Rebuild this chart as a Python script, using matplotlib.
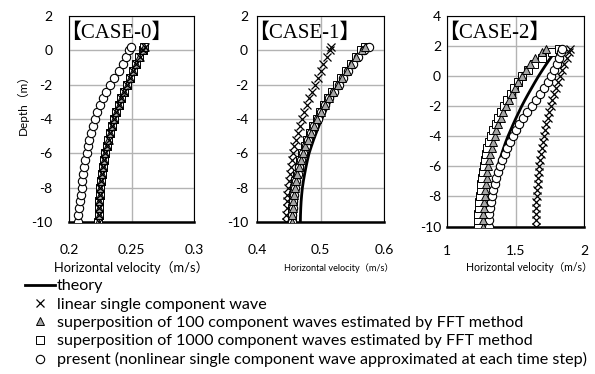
import matplotlib
matplotlib.use("Agg")
import matplotlib.pyplot as plt

# ---------------- data ----------------
depth_01 = [-10.0, -9.6, -9.2, -8.8, -8.4, -8.0, -7.6, -7.2, -6.8, -6.4, -6.0,
            -5.6, -5.2, -4.8, -4.4, -4.0, -3.6, -3.2, -2.8, -2.4, -2.0,
            -1.6, -1.2, -0.8, -0.4, 0.0, 0.2]
depth_2 = [-10.0, -9.6, -9.2, -8.8, -8.4, -8.0, -7.6, -7.2, -6.8, -6.4, -6.0,
           -5.6, -5.2, -4.8, -4.4, -4.0, -3.6, -3.2, -2.8, -2.4, -2.0,
           -1.6, -1.2, -0.8, -0.4, 0.0, 0.4, 0.8, 1.2, 1.6, 1.8]

# CASE-0
c0_theory = [0.2235, 0.2236, 0.2238, 0.2241, 0.2245, 0.2250, 0.2256, 0.2263, 0.2271, 0.2280, 0.2290,
             0.2302, 0.2315, 0.2329, 0.2344, 0.2360, 0.2378, 0.2397, 0.2418, 0.2441, 0.2465,
             0.2488, 0.2512, 0.2537, 0.2563, 0.2590, 0.2603]
c0_linear = [0.2236, 0.2237, 0.2239, 0.2242, 0.2246, 0.2251, 0.2257, 0.2264, 0.2272, 0.2281, 0.2291,
             0.2303, 0.2316, 0.2330, 0.2345, 0.2361, 0.2379, 0.2398, 0.2419, 0.2442, 0.2466,
             0.2489, 0.2513, 0.2539, 0.2565, 0.2592, 0.2606]
c0_fft100 = [0.2235, 0.2236, 0.2238, 0.2241, 0.2245, 0.2250, 0.2256, 0.2263, 0.2271, 0.2280, 0.2290,
             0.2302, 0.2315, 0.2329, 0.2344, 0.2360, 0.2378, 0.2397, 0.2418, 0.2441, 0.2465,
             0.2488, 0.2512, 0.2537, 0.2563, 0.2590, 0.2603]
c0_fft1000 = [0.2235, 0.2236, 0.2238, 0.2241, 0.2245, 0.2250, 0.2256, 0.2263, 0.2271, 0.2280, 0.2290,
              0.2302, 0.2315, 0.2329, 0.2344, 0.2360, 0.2378, 0.2397, 0.2418, 0.2441, 0.2465,
              0.2488, 0.2512, 0.2537, 0.2563, 0.2590, 0.2603]
c0_present = [0.2068, 0.2073, 0.2079, 0.2085, 0.2092, 0.2100, 0.2107, 0.2115, 0.2122, 0.2131, 0.2140,
              0.2151, 0.2163, 0.2176, 0.2190, 0.2205, 0.2225, 0.2247, 0.2271, 0.2299, 0.2330,
              0.2363, 0.2396, 0.2429, 0.2457, 0.2478, 0.2497]

# CASE-1
c1_theory = [0.4683, 0.4685, 0.4689, 0.4695, 0.4704, 0.4715, 0.4731, 0.4750, 0.4771, 0.4794, 0.4820,
             0.4855, 0.4892, 0.4933, 0.4975, 0.5020, 0.5070, 0.5122, 0.5177, 0.5236, 0.5300,
             0.5366, 0.5435, 0.5510, 0.5588, 0.5670, 0.5730]
c1_linear = [0.4463, 0.4464, 0.4467, 0.4472, 0.4479, 0.4488, 0.4500, 0.4514, 0.4530, 0.4548, 0.4567,
             0.4590, 0.4615, 0.4643, 0.4675, 0.4710, 0.4746, 0.4783, 0.4823, 0.4865, 0.4910,
             0.4955, 0.5000, 0.5046, 0.5095, 0.5145, 0.5170]
c1_fft100 = [0.4555, 0.4557, 0.4561, 0.4568, 0.4579, 0.4594, 0.4613, 0.4636, 0.4662, 0.4692, 0.4725,
             0.4763, 0.4804, 0.4850, 0.4898, 0.4950, 0.5006, 0.5065, 0.5128, 0.5197, 0.5270,
             0.5340, 0.5412, 0.5487, 0.5566, 0.5650, 0.5705]
c1_fft1000 = [0.4548, 0.4550, 0.4554, 0.4561, 0.4572, 0.4587, 0.4606, 0.4628, 0.4654, 0.4684, 0.4716,
              0.4754, 0.4795, 0.4840, 0.4888, 0.4940, 0.4996, 0.5055, 0.5118, 0.5187, 0.5260,
              0.5330, 0.5402, 0.5477, 0.5556, 0.5640, 0.5698]
c1_present = [0.4556, 0.4559, 0.4563, 0.4570, 0.4581, 0.4596, 0.4615, 0.4638, 0.4664, 0.4694, 0.4728,
              0.4766, 0.4808, 0.4855, 0.4904, 0.4957, 0.5014, 0.5075, 0.5140, 0.5210, 0.5285,
              0.5358, 0.5432, 0.5510, 0.5592, 0.5680, 0.5770]

# CASE-2
c2_theory = [1.312, 1.3125, 1.314, 1.317, 1.322, 1.328, 1.3345, 1.342, 1.3505, 1.360, 1.370,
             1.3835, 1.398, 1.4125, 1.428, 1.445, 1.464, 1.483, 1.503, 1.524, 1.545,
             1.568, 1.592, 1.617, 1.642, 1.668, 1.696, 1.725, 1.755, 1.786, 1.802]
c2_linear = [1.647, 1.6475, 1.648, 1.6495, 1.652, 1.655, 1.658, 1.662, 1.6655, 1.670, 1.675,
             1.6805, 1.6865, 1.693, 1.700, 1.708, 1.716, 1.7255, 1.7355, 1.746, 1.757,
             1.769, 1.7815, 1.795, 1.809, 1.823, 1.839, 1.856, 1.873, 1.891, 1.900]
c2_fft100 = [1.263, 1.2635, 1.265, 1.267, 1.2705, 1.275, 1.279, 1.2835, 1.2885, 1.294, 1.300,
             1.307, 1.3155, 1.3255, 1.3365, 1.348, 1.361, 1.3755, 1.3915, 1.410, 1.430,
             1.451, 1.473, 1.496, 1.520, 1.545, 1.573, 1.604, 1.640, 1.690, 1.720]
c2_fft1000 = [1.227, 1.2275, 1.229, 1.231, 1.235, 1.240, 1.245, 1.2505, 1.2565, 1.262, 1.268,
              1.276, 1.285, 1.2955, 1.3085, 1.324, 1.339, 1.355, 1.3725, 1.393, 1.415,
              1.439, 1.464, 1.491, 1.520, 1.550, 1.590, 1.635, 1.690, 1.770, 1.815]
c2_present = [1.305, 1.3055, 1.308, 1.3125, 1.3195, 1.330, 1.339, 1.349, 1.360, 1.3735, 1.388,
              1.404, 1.421, 1.4395, 1.459, 1.480, 1.503, 1.528, 1.555, 1.587, 1.620,
              1.650, 1.680, 1.708, 1.735, 1.760, 1.781, 1.800, 1.817, 1.832, 1.840]

titles = ["【CASE-0】", "【CASE-1】", "【CASE-2】"]
xticks = [[0.2, 0.25, 0.3], [0.4, 0.5, 0.6], [1, 1.5, 2]]
xticklabels = [["0.2", "0.25", "0.3"], ["0.4", "0.5", "0.6"], ["1", "1.5", "2"]]
yticks = [[-10, -8, -6, -4, -2, 0, 2], [-10, -8, -6, -4, -2, 0, 2],
          [-10, -8, -6, -4, -2, 0, 2, 4]]
legend_labels = ["theory",
                 "linear single component wave",
                 "superposition of 100 component waves estimated by FFT method",
                 "superposition of 1000 component waves estimated by FFT method",
                 "present (nonlinear single component wave approximated at each time step)"]
xlabel = "Horizontal velocity（m/s）"
ylabel = "Depth（m）"

cases = [
    (depth_01, c0_theory, c0_linear, c0_fft100, c0_fft1000, c0_present),
    (depth_01, c1_theory, c1_linear, c1_fft100, c1_fft1000, c1_present),
    (depth_2, c2_theory, c2_linear, c2_fft100, c2_fft1000, c2_present),
]

# ---------------- figure ----------------
W, H = 595, 374
fig = plt.figure(figsize=(W / 100, H / 100), dpi=100)
sans = ["Lato", "Noto Sans CJK JP"]
serif = ["Liberation Serif", "Noto Sans CJK JP"]

def px_rect(l, r, t, b):
    return [l / W, 1 - b / H, (r - l) / W, (b - t) / H]

rects = [px_rect(69, 194, 16, 222), px_rect(257, 384, 16, 222), px_rect(447, 584, 16, 226.5)]
xpads = [16.0, 16.0, 13.3]
ypads = [12.0, 6.5, 4.3]

handles = None
for i, (rect, data) in enumerate(zip(rects, cases)):
    ax = fig.add_axes(rect)
    d, th, lin, f100, f1000, pres = data
    h_th, = ax.plot(th, d, color="black", lw=2.0, zorder=3)
    h_lin, = ax.plot(lin, d, ls="none", marker="x", ms=5.5, mew=0.9, color="black", zorder=4)
    h_tri, = ax.plot(f100, d, ls="none", marker="^", ms=5.5, mew=0.7,
                     mfc="#a6a6a6", mec="black", zorder=5)
    h_sq, = ax.plot(f1000, d, ls="none", marker="s", ms=5.5, mew=0.7,
                    mfc="white", mec="black", zorder=4)
    h_ci, = ax.plot(pres, d, ls="none", marker="o", ms=6.0, mew=0.8,
                    mfc="white", mec="black", zorder=4)
    if i == 0:
        # CASE-0: FFT markers lie under the linear markers
        h_sq.set_zorder(3.5)
        h_tri.set_zorder(3.6)
        h_lin.set_zorder(5)
        handles = [h_th, h_lin, h_tri, h_sq, h_ci]
    ax.set_xlim(xticks[i][0], xticks[i][-1])
    ax.set_ylim(yticks[i][0], yticks[i][-1])
    ax.set_xticks(xticks[i])
    ax.set_xticklabels(xticklabels[i])
    ax.set_yticks(yticks[i])
    ax.set_yticklabels([str(v) for v in yticks[i]])
    ax.grid(True, color="#b3b3b3", lw=1.0)
    ax.set_axisbelow(True)
    ax.tick_params(axis="x", length=0, pad=xpads[i], labelsize=10)
    ax.tick_params(axis="y", length=0, pad=ypads[i], labelsize=10)
    for lab in ax.get_xticklabels() + ax.get_yticklabels():
        lab.set_family(sans)
    for s in ["top", "right", "left"]:
        ax.spines[s].set_color("black")
        ax.spines[s].set_linewidth(0.8)
    ax.spines["bottom"].set_color("black")
    ax.spines["bottom"].set_linewidth(1.8)
    ax.text(-9 / (rect[2] * W), 1 - (33 - 16) / (rect[3] * H), titles[i], transform=ax.transAxes,
            ha="left", va="center", fontsize=15, family=serif, zorder=6)

# axis labels
fig.text(22.5 / W, 1 - 101.7 / H, ylabel, rotation=90, ha="center", va="center",
         fontsize=8.5, family=sans)
for xc, fs in [(131.5, 9.3), (339, 6.6), (529, 7.6)]:
    fig.text(xc / W, 1 - 267.7 / H, xlabel, ha="center", va="center", fontsize=fs, family=sans)

# legend
leg = fig.legend(handles, legend_labels, loc="upper left",
                 bbox_to_anchor=(25 / W, 1 - 279 / H), frameon=False,
                 prop={"family": sans, "size": 11.6}, handlelength=1.87,
                 handletextpad=0.12, labelspacing=0.25, borderpad=0, borderaxespad=0,
                 numpoints=1)

fig.savefig("out.png", dpi=100)
